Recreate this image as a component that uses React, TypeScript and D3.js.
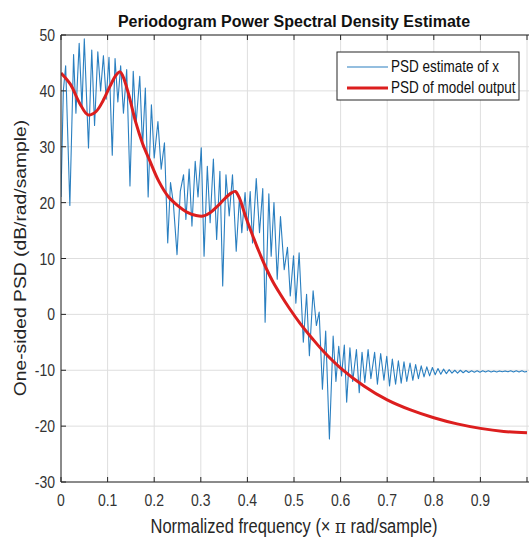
import React from 'react';
import * as d3 from 'd3';

// PSD estimate of x (periodogram)
const blueFreq = [
  0.000, 0.005, 0.010, 0.019, 0.027, 0.032, 0.039, 0.045, 0.050, 0.059,
  0.066, 0.072, 0.079, 0.085, 0.091, 0.097, 0.103, 0.110, 0.116, 0.122,
  0.128, 0.134, 0.141, 0.148, 0.155, 0.161, 0.169, 0.175, 0.181, 0.187,
  0.194, 0.200, 0.208, 0.215, 0.222, 0.229, 0.235, 0.241, 0.249, 0.256,
  0.263, 0.268, 0.275, 0.281, 0.288, 0.294, 0.301, 0.307, 0.314, 0.320,
  0.327, 0.334, 0.341, 0.347, 0.354, 0.361, 0.368, 0.376, 0.383, 0.388,
  0.395, 0.400, 0.406, 0.411, 0.419, 0.426, 0.433, 0.438, 0.446, 0.451,
  0.457, 0.464, 0.471, 0.479, 0.486, 0.492, 0.499, 0.504, 0.511, 0.520,
  0.527, 0.533, 0.541, 0.548, 0.554, 0.561, 0.568, 0.576, 0.584, 0.590,
  0.596, 0.602, 0.608, 0.613, 0.620, 0.626, 0.634, 0.640, 0.646, 0.652,
  0.659, 0.665, 0.673, 0.679, 0.686, 0.693, 0.699, 0.705, 0.711, 0.718,
  0.724, 0.730, 0.736, 0.742, 0.749, 0.755, 0.761, 0.767, 0.773, 0.779,
  0.785, 0.791, 0.797, 0.803, 0.809, 0.815, 0.821, 0.827, 0.833, 0.839,
  0.845, 0.851, 0.857, 0.863, 0.869, 0.875, 0.881, 0.887, 0.893, 0.899,
  0.905, 0.911, 0.917, 0.923, 0.929, 0.935, 0.941, 0.947, 0.953, 0.959,
  0.965, 0.971, 0.977, 0.983, 0.989, 0.995, 1.000,
];
const bluePSD = [
  21, 40, 44.5, 19.5, 46.5, 36, 48.5, 37, 49.3, 29.8,
  47.3, 33.8, 47, 40, 46.3, 38.5, 46, 28.5, 45.8, 38,
  44.5, 36, 43.8, 23, 43.5, 34, 42.6, 30, 40.5, 21,
  37.5, 28, 34.5, 26, 30.7, 12.8, 23.6, 20, 10.7, 22,
  25, 17, 26, 15.8, 27.4, 21, 29.8, 10.4, 26.5, 16.4,
  27.8, 13.4, 25.6, 5.1, 25, 17.6, 25, 11.3, 21, 14.6,
  21.8, 15, 22, 12.8, 24.3, 14.6, 22.5, -1.4, 21.6, 10.4,
  20, 6.3, 17.5, 8, 12, 3.3, 10.5, 2, 11, -5,
  3.6, -7.4, 4.2, -2, 0.4, -13.4, -3, -22.3, -3.9, -12,
  -5.7, -11, -5.5, -15.7, -6, -12, -6.3, -14, -6.8, -12.2,
  -6.3, -11.5, -6.8, -12.5, -7, -11.8, -7.5, -12.8, -8, -12.5,
  -8.3, -12.3, -8.5, -12, -8.7, -11.8, -9, -11.5, -9.2, -11.2,
  -9.4, -11, -9.5, -10.8, -9.7, -10.7, -9.8, -10.6, -9.9, -10.5,
  -10.0, -10.5, -10.0, -10.45, -10.05, -10.4, -10.1, -10.35, -10.1, -10.35,
  -10.1, -10.3, -10.1, -10.3, -10.12, -10.3, -10.12, -10.28, -10.12, -10.28,
  -10.1, -10.3, -10.1, -10.3, -10.1, -10.3, -10.2,
];

// PSD of model output
const redFreq = [
  0, 0.02, 0.04, 0.058, 0.075, 0.09, 0.105, 0.118, 0.127, 0.133,
  0.1445, 0.16, 0.175, 0.19, 0.21, 0.23, 0.25, 0.27, 0.29, 0.305,
  0.32, 0.335, 0.35, 0.365, 0.374, 0.383, 0.395, 0.41, 0.425, 0.44,
  0.455, 0.47, 0.49, 0.513, 0.54, 0.563, 0.6, 0.65, 0.7, 0.75,
  0.8, 0.85, 0.9, 0.95, 1.0,
];
const redPSD = [
  43.2, 41.2, 37.8, 35.7, 36.3, 38.2, 40.8, 42.8, 43.4, 42.6,
  39.6, 34.5, 30.6, 27.6, 23.8, 21.1, 19.5, 18.3, 17.7, 17.6,
  18.2, 19.3, 20.6, 21.7, 22, 20.8, 17.8, 14.4, 11.2, 8.3,
  5.8, 3.7, 1.1, -1.6, -4.4, -6.6, -9.6, -12.8, -15.3, -17.1,
  -18.5, -19.6, -20.4, -20.95, -21.2,
];

const xTicks = [0, 0.1, 0.2, 0.3, 0.4, 0.5, 0.6, 0.7, 0.8, 0.9, 1.0];
const xTickLabels = ['0', '0.1', '0.2', '0.3', '0.4', '0.5', '0.6', '0.7', '0.8', '0.9', ''];
const yTicks = [-30, -20, -10, 0, 10, 20, 30, 40, 50];
const yTickLabels = ['-30', '-20', '-10', '0', '10', '20', '30', '40', '50'];
const seriesNames = ['PSD estimate of x', 'PSD of model output'];

const FONT = '"Liberation Sans", Arial, Helvetica, sans-serif';
const SY = 1.17;

export default function App() {
  const W = 529, H = 542;
  const L = 61, R = 527, T = 35, B = 482;
  const x = d3.scaleLinear().domain([0, 1]).range([L, R]);
  const y = d3.scaleLinear().domain([-30, 50]).range([B, T]);

  const blue = d3.line<number>().x((_, i) => x(blueFreq[i])).y((d) => y(d));
  const red = d3.line<number>().x((_, i) => x(redFreq[i])).y((d) => y(d)).curve(d3.curveCatmullRom.alpha(0.5));

  const axisColor = '#262626';
  const gridColor = '#dedede';
  const tickLen = 5;
  const blueColor = '#2a7fc0';
  const redColor = '#dc1e1e';

  const legX = 337, legY = 52, legW = 182, legH = 48;

  return (
    <svg width={W} height={H} style={{ position: 'absolute', left: 0, top: 0, background: '#fff' }}>
      <rect x={0} y={0} width={W} height={H} fill="#fff" />
      {/* grid */}
      {xTicks.map((t) => (
        <line key={'gx' + t} x1={x(t)} x2={x(t)} y1={T} y2={B} stroke={gridColor} strokeWidth={1} />
      ))}
      {yTicks.map((t) => (
        <line key={'gy' + t} x1={L} x2={W} y1={y(t)} y2={y(t)} stroke={gridColor} strokeWidth={1} />
      ))}
      {/* data */}
      <defs>
        <clipPath id="plotclip">
          <rect x={L} y={T} width={W - L} height={B - T} />
        </clipPath>
      </defs>
      <g clipPath="url(#plotclip)">
        <path d={blue(bluePSD) || ''} fill="none" stroke={blueColor} strokeWidth={1.1} strokeLinejoin="round" />
        <path d={red(redPSD) || ''} fill="none" stroke={redColor} strokeWidth={3} strokeLinejoin="round" />
      </g>
      {/* axes box */}
      <line x1={L} x2={L} y1={T} y2={B} stroke={axisColor} strokeWidth={1} />
      <line x1={L} x2={W} y1={B} y2={B} stroke={axisColor} strokeWidth={1} />
      <line x1={L} x2={W} y1={T} y2={T} stroke={axisColor} strokeWidth={1} />
      {xTicks.map((t) => (
        <g key={'xt' + t}>
          <line x1={x(t)} x2={x(t)} y1={B} y2={B - tickLen} stroke={axisColor} />
          <line x1={x(t)} x2={x(t)} y1={T} y2={T + tickLen} stroke={axisColor} />
        </g>
      ))}
      {yTicks.map((t) => (
        <line key={'yt' + t} x1={L} x2={L + tickLen} y1={y(t)} y2={y(t)} stroke={axisColor} />
      ))}
      {/* tick labels */}
      {xTicks.map((t, i) => (
        <g key={'xl' + t} transform={`translate(${x(t)},${B + 24}) scale(1,${SY})`}>
          <text textAnchor="middle" fontFamily={FONT} fontSize={14} fill="#333">{xTickLabels[i]}</text>
        </g>
      ))}
      {yTicks.map((t, i) => (
        <g key={'yl' + t} transform={`translate(${L - 6},${y(t) + 6}) scale(1,${SY})`}>
          <text textAnchor="end" fontFamily={FONT} fontSize={14} fill="#333">{yTickLabels[i]}</text>
        </g>
      ))}
      {/* axis labels */}
      <g transform={`translate(${(L + R) / 2},${533}) scale(1,${SY})`}>
        <text textAnchor="middle" fontFamily={FONT} fontSize={16.5} fill="#262626">
          Normalized frequency (× <tspan fontFamily='"DejaVu Serif", serif'>π</tspan> rad/sample)
        </text>
      </g>
      <g transform={`translate(26,${258}) rotate(-90) scale(${SY},1)`}>
        <text textAnchor="middle" fontFamily={FONT} fontSize={16.5} fill="#262626">
          One-sided PSD (dB/rad/sample)
        </text>
      </g>
      {/* title */}
      <g transform={`translate(${(L + R) / 2},27)`}>
        <text textAnchor="middle" fontFamily={FONT} fontSize={16} fontWeight="bold" fill="#111">
          Periodogram Power Spectral Density Estimate
        </text>
      </g>
      {/* legend */}
      <rect x={legX} y={legY} width={legW} height={legH} fill="#fff" stroke={axisColor} strokeWidth={1} />
      <line x1={legX + 10} x2={legX + 51} y1={legY + 15} y2={legY + 15} stroke={blueColor} strokeWidth={1.1} />
      <line x1={legX + 10} x2={legX + 51} y1={legY + 36} y2={legY + 36} stroke={redColor} strokeWidth={3} />
      <g transform={`translate(${legX + 54},${legY + 20}) scale(1,${SY})`}>
        <text fontFamily={FONT} fontSize={13.5} fill="#111">{seriesNames[0]}</text>
      </g>
      <g transform={`translate(${legX + 54},${legY + 41}) scale(1,${SY})`}>
        <text fontFamily={FONT} fontSize={13.5} fill="#111">{seriesNames[1]}</text>
      </g>
    </svg>
  );
}
